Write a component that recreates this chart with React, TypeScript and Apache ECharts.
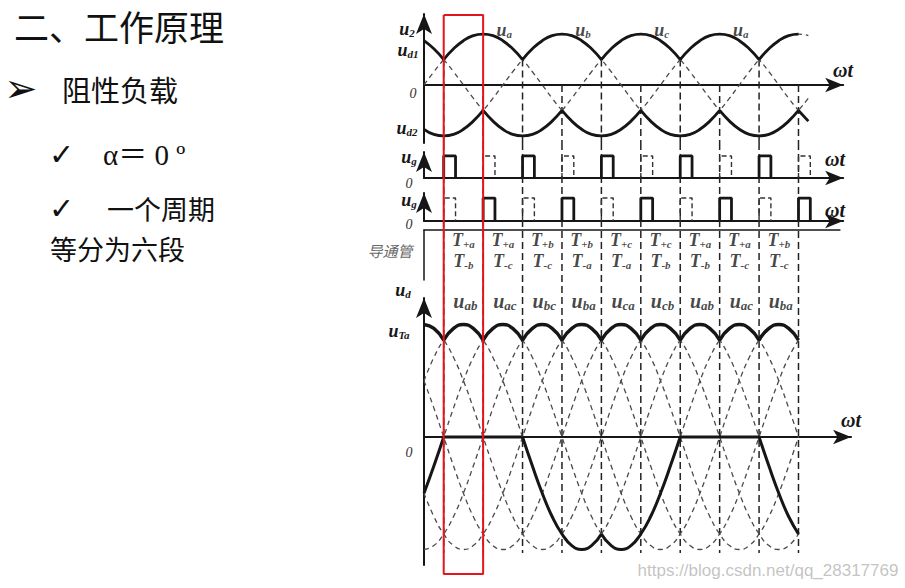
import React, { useEffect, useRef } from 'react';
import * as echarts from 'echarts';

// ---------- data ----------
const STEP = 15; // degrees between samples
// one period of the phase-voltage shape, read every 15 degrees (unit amplitude)
const WAVE = [0, 0.26, 0.5, 0.71, 0.87, 0.97, 1, 0.97, 0.87, 0.71, 0.5, 0.26,
  0, -0.26, -0.5, -0.71, -0.87, -0.97, -1, -0.97, -0.87, -0.71, -0.5, -0.26];
const PHASE_NAMES = ['a', 'b', 'c'];
const PHASE_LAG = [0, 120, 240];
const TOP_LABELS = ['a', 'b', 'c', 'a'];
const TOP_LABEL_ANGLES = [90, 210, 330, 450];
const NATURAL_POS = [30, 150, 270, 390, 510];
const NATURAL_NEG = [90, 210, 330, 450, 570];
const PULSE_WIDTH = 18;
const SEGMENT_STARTS = [30, 90, 150, 210, 270, 330, 390, 450, 510];
const CONDUCT_TOP = ['+a', '+a', '+b', '+b', '+c', '+c', '+a', '+a', '+b'];
const CONDUCT_BOTTOM = ['-b', '-c', '-c', '-a', '-a', '-b', '-b', '-c', '-c'];
const UD_LABELS = ['ab', 'ac', 'bc', 'ba', 'ca', 'cb', 'ab', 'ac', 'ba'];
const LINE_PAIRS = [['a', 'b'], ['b', 'a'], ['b', 'c'], ['c', 'b'], ['c', 'a'], ['a', 'c']];
const PHASE_END = 585;
const ENVELOPE_END = 570;
const LINE_END = 570;
const HIGHLIGHT = [30, 90];

// ---------- layout ----------
const PX = 0.657; // px per degree
const X0 = 424;
const SERIF = '"Liberation Serif", "DejaVu Serif", serif';
const CJK = '"Noto Sans CJK SC", sans-serif';
const SYM = '"DejaVu Sans", sans-serif';
const INK = '#161616';

const RICH: any = {
  m: { fontFamily: SERIF, fontStyle: 'italic', fontWeight: 'bold', fontSize: 18, lineHeight: 18, color: INK },
  s: { fontFamily: SERIF, fontStyle: 'italic', fontWeight: 'bold', fontSize: 11, verticalAlign: 'bottom', color: INK },
  M: { fontFamily: SERIF, fontStyle: 'italic', fontWeight: 'bold', fontSize: 20, lineHeight: 22, color: INK },
  S: { fontFamily: SERIF, fontStyle: 'italic', fontWeight: 'bold', fontSize: 13, verticalAlign: 'bottom', color: INK },
};

const range = (a: number, b: number) => {
  const r: number[] = [];
  for (let t = a; t <= b; t += STEP) r.push(t);
  return r;
};
const ph = (i: number, t: number) => WAVE[((Math.round((t - PHASE_LAG[i]) / STEP) % 24) + 24) % 24];
const idx = (n: string) => PHASE_NAMES.indexOf(n);
const upper = (t: number) => Math.max(ph(0, t), ph(1, t), ph(2, t));
const lower = (t: number) => Math.min(ph(0, t), ph(1, t), ph(2, t));
const lineV = (x: string, y: string, t: number) => ph(idx(x), t) - ph(idx(y), t);
const lineEnv = (t: number) => upper(t) - lower(t);
const uTa = (t: number) => ph(0, t) - upper(t);

function segmented(fn: (t: number) => number, from: number, to: number, breaks: number[]) {
  const out: any[] = [];
  for (const t of range(from, to)) {
    out.push([t, fn(t)]);
    if (breaks.includes(t) && t !== from && t !== to) {
      out.push([t, '-']);
      out.push([t, fn(t)]);
    }
  }
  return out;
}

function pulses(starts: number[]) {
  const out: any[] = [];
  starts.forEach((a) => {
    out.push([a, 0], [a, 1], [a + PULSE_WIDTH, 1], [a + PULSE_WIDTH, 0], [a + PULSE_WIDTH, '-']);
  });
  return out;
}

const ALL_CROSS = [...NATURAL_POS, ...NATURAL_NEG].sort((p, q) => p - q);

const lineSeries = (g: number, data: any[], style: any, smooth = true, z = 2) => ({
  type: 'line', xAxisIndex: g, yAxisIndex: g, data, smooth, showSymbol: false, symbol: 'none',
  silent: true, z, lineStyle: style, connectNulls: false,
});
const DASH_CURVE = { color: '#4a4a4a', width: 1.3, type: [5, 4] };
const DASH_VERT = { color: '#222', width: 1.5, type: [7, 4] };

function buildOption(): any {
  const grids = [
    { left: X0, top: 14, width: 638 * PX, height: 129 },
    { left: X0, top: 152, width: 638 * PX, height: 26 },
    { left: X0, top: 193, width: 638 * PX, height: 28 },
    { left: X0, top: 230, width: 633 * PX, height: 50 },
    { left: X0, top: 298, width: 650 * PX, height: 267 },
    { left: X0, top: 0, width: 638 * PX, height: 588 },
  ];
  const xMax = [638, 638, 638, 633, 650, 638];
  const yRange = [[-1.14, 1.395], [0, 1.18], [0, 1.22], [0, 2.4], [-1.98, 2.15], [0, 588]];
  const arrowLine = { show: true, symbol: ['none', 'arrow'], symbolSize: [11, 18], lineStyle: { color: INK, width: 2 } };
  const xAxis = xMax.map((m, g) => ({
    type: 'value', gridIndex: g, min: 0, max: m, show: g !== 5,
    position: g === 3 ? 'top' : 'bottom',
    axisLine: g === 3 ? { show: true, onZero: false, lineStyle: { color: INK, width: 1.5 } } : arrowLine,
    axisTick: { show: false }, axisLabel: { show: false }, splitLine: { show: false },
  }));
  const yAxis = yRange.map((r, g) => ({
    type: 'value', gridIndex: g, min: r[0], max: r[1], show: g !== 5,
    inverse: g === 3 || g === 5,
    axisLine: g === 3 ? { show: true, lineStyle: { color: INK, width: 1.5 } }
      : { show: true, symbol: ['none', 'arrow'], symbolSize: [12, 20], lineStyle: { color: INK, width: 2 } },
    axisTick: { show: false }, axisLabel: { show: false }, splitLine: { show: false },
  }));

  const series: any[] = [];
  // --- panel 0: phase voltages
  PHASE_NAMES.forEach((_, i) => {
    series.push(lineSeries(0, range(0, PHASE_END).map((t) => [t, ph(i, t)]), DASH_CURVE));
  });
  series.push(lineSeries(0, ALL_CROSS.flatMap((a) => [[a, NATURAL_POS.includes(a) ? upper(a) : 0], [a, yRange[0][0]], [a, '-']]), DASH_VERT, false, 1));
  series.push(lineSeries(0, segmented(upper, 0, ENVELOPE_END, NATURAL_POS), { color: INK, width: 2.8 }, true, 4));
  series.push(lineSeries(0, segmented(lower, 0, PHASE_END, NATURAL_NEG), { color: INK, width: 2.8 }, true, 4));
  series.push({
    type: 'scatter', xAxisIndex: 0, yAxisIndex: 0, symbolSize: 1, itemStyle: { color: 'rgba(0,0,0,0)' }, silent: true,
    data: TOP_LABELS.map((n, i) => ({ name: n, value: [TOP_LABEL_ANGLES[i], 1] })),
    label: { show: true, position: 'inside', offset: [21, -4], rich: RICH, formatter: (p: any) => `{m|u}{s|${p.name}}` },
  });
  // --- panels 1, 2: gate pulses
  series.push(lineSeries(1, pulses(NATURAL_POS), { color: INK, width: 2.8 }, false, 3));
  series.push(lineSeries(1, pulses(NATURAL_NEG), { color: '#333', width: 1.4, type: [5, 3] }, false, 3));
  series.push(lineSeries(2, pulses(NATURAL_NEG), { color: INK, width: 2.8 }, false, 3));
  series.push(lineSeries(2, pulses(NATURAL_POS), { color: '#333', width: 1.4, type: [5, 3] }, false, 3));
  // --- panel 3: conducting thyristors
  series.push({
    type: 'scatter', xAxisIndex: 3, yAxisIndex: 3, symbolSize: 1, itemStyle: { color: 'rgba(0,0,0,0)' }, silent: true,
    data: [
      ...CONDUCT_TOP.map((n, i) => ({ name: n, value: [SEGMENT_STARTS[i] + 30, 0.5] })),
      ...CONDUCT_BOTTOM.map((n, i) => ({ name: n, value: [SEGMENT_STARTS[i] + 30, 1.5] })),
    ],
    label: { show: true, position: 'inside', offset: [0, 0], rich: RICH, formatter: (p: any) => `{m|T}{s|${p.name}}` },
  });
  // --- panel 4: output voltage and thyristor voltage
  LINE_PAIRS.forEach(([x, y]) => {
    series.push(lineSeries(4, range(0, LINE_END).map((t) => [t, lineV(x, y, t)]), DASH_CURVE));
  });
  series.push(lineSeries(4, segmented(lineEnv, 0, LINE_END, SEGMENT_STARTS), { color: INK, width: 3.5 }, true, 4));
  series.push(lineSeries(4, segmented(uTa, 0, LINE_END, NATURAL_POS), { color: INK, width: 3 }, true, 4));
  series.push({
    type: 'scatter', xAxisIndex: 4, yAxisIndex: 4, symbolSize: 1, itemStyle: { color: 'rgba(0,0,0,0)' }, silent: true,
    data: UD_LABELS.map((n, i) => ({ name: n, value: [SEGMENT_STARTS[i] + 30, lineEnv(SEGMENT_STARTS[i] + 30)] })),
    label: { show: true, position: 'inside', offset: [2, -24], rich: RICH, formatter: (p: any) => `{M|u}{S|${p.name}}` },
  });
  // --- overlay: commutation lines through all panels, highlighted interval
  series.push(lineSeries(5, ALL_CROSS.flatMap((a) => [[a, 143], [a, 553], [a, '-']]), DASH_VERT, false, 1));
  series.push(lineSeries(5, [[HIGHLIGHT[0], 15], [HIGHLIGHT[1], 15], [HIGHLIGHT[1], 574], [HIGHLIGHT[0], 574], [HIGHLIGHT[0], 15]],
    { color: '#e3161e', width: 2 }, false, 10));

  const txt = (x: number, y: number, text: string, extra: any = {}) => ({
    type: 'text', x, y, silent: true, z: 20,
    style: { text, fill: INK, align: 'center', verticalAlign: 'middle', textAlign: 'center', textVerticalAlign: 'middle', rich: RICH, ...extra },
  });
  const left = (x: number, y: number, text: string, size: number, family = CJK) => ({
    type: 'text', x, y, silent: true,
    style: { text, fill: '#111', fontSize: size, lineHeight: Math.min(size, 30), fontFamily: family, align: 'left', verticalAlign: 'middle', textAlign: 'left', textVerticalAlign: 'middle' },
  });
  const zeroStyle = { fontFamily: SERIF, fontStyle: 'italic', fontSize: 14, lineHeight: 14, fill: '#333' };
  const wtStyle = { fontFamily: SERIF, fontStyle: 'italic', fontWeight: 'bold', fontSize: 20, lineHeight: 20, fill: INK };

  const graphic = [
    left(14, 25, '二、工作原理', 35),
    left(4, 88, '➢', 40, SYM),
    left(62, 89, '阻性负载', 29),
    left(49, 154, '✓', 30, SYM),
    left(103, 155, 'α＝ 0 º', 29, '"Liberation Serif", "Noto Sans CJK SC", serif'),
    left(49, 208, '✓', 30, SYM),
    left(107, 208, '一个周期', 27),
    left(50, 248, '等分为六段', 27),
    txt(407, 29, '{m|u}{s|2}'),
    txt(408, 50, '{m|u}{s|d1}'),
    txt(413, 93, '0', zeroStyle),
    txt(407, 128, '{m|u}{s|d2}'),
    txt(843, 70, 'ωt', wtStyle),
    txt(409, 157, '{m|u}{s|g}'),
    txt(409, 183, '0', zeroStyle),
    txt(835, 159, 'ωt', wtStyle),
    txt(409, 200, '{m|u}{s|g}'),
    txt(409, 224, '0', zeroStyle),
    txt(835, 210, 'ωt', wtStyle),
    txt(390, 250, '导通管', { fontFamily: CJK, fontStyle: 'italic', fontSize: 15, fill: '#6a6a6a' }),
    txt(403, 290, '{m|u}{s|d}'),
    txt(399, 331, '{m|u}{s|Ta}'),
    txt(409, 452, '0', zeroStyle),
    txt(851, 420, 'ωt', wtStyle),
    txt(768, 570, 'https://blog.csdn.net/qq_28317769', { fontFamily: '"Liberation Sans", Arial, sans-serif', fontSize: 17, fill: 'rgba(185,185,185,0.85)' }),
  ];

  return { animation: false, backgroundColor: '#fff', grid: grids, xAxis, yAxis, series, graphic };
}

export default function App() {
  const ref = useRef<HTMLDivElement>(null);
  useEffect(() => {
    const chart = echarts.init(ref.current!, null, { renderer: 'svg' });
    chart.setOption(buildOption());
    return () => chart.dispose();
  }, []);
  return <div ref={ref} style={{ position: 'fixed', left: 0, top: 0, width: 905, height: 588, background: '#fff' }} />;
}
